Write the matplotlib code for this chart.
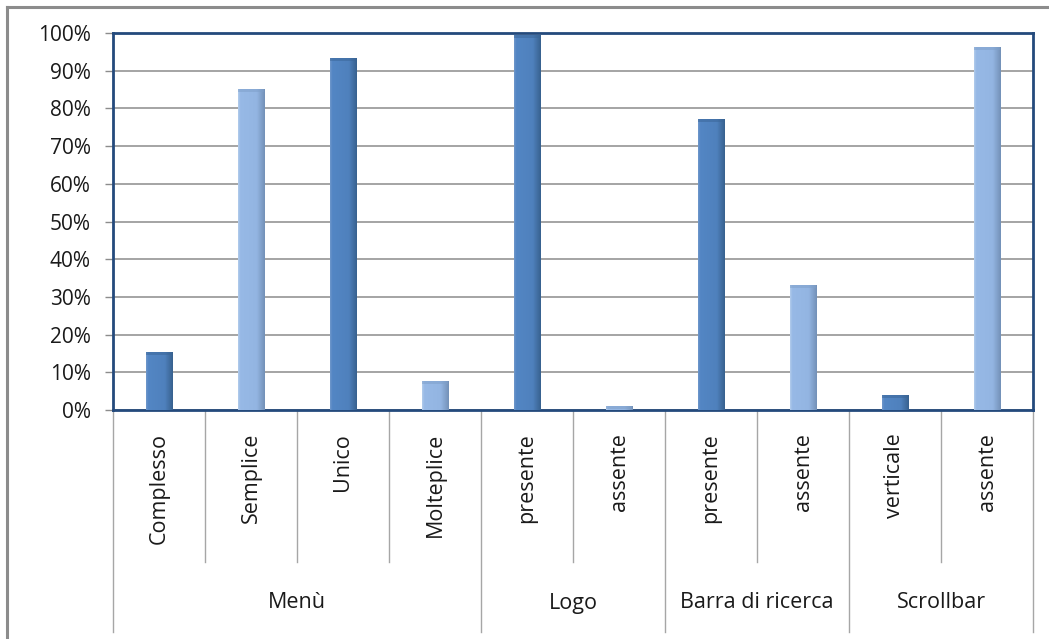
import matplotlib
matplotlib.use("Agg")
import matplotlib.pyplot as plt
import numpy as np
from matplotlib.colors import LinearSegmentedColormap
from matplotlib.transforms import blended_transform_factory
from matplotlib.ticker import FuncFormatter

categories = ["Complesso", "Semplice", "Unico", "Molteplice", "presente", "assente",
              "presente", "assente", "verticale", "assente"]
values = [15.4, 85.2, 93.4, 7.6, 99.4, 1.0, 77.3, 33.2, 4.0, 96.3]
shade = ["dark", "light", "dark", "light", "dark", "light", "dark", "light", "dark", "light"]
groups = ["Menù", "Logo", "Barra di ricerca", "Scrollbar"]
group_sizes = [4, 2, 2, 2]
yticks = [0, 10, 20, 30, 40, 50, 60, 70, 80, 90, 100]

plt.rcParams['font.family'] = ['Open Sans', 'DejaVu Sans']

W, H = 1049, 639
fig = plt.figure(figsize=(W / 100, H / 100), dpi=100)
L, R, T, B = 113, 1033, 33, 410
ax = fig.add_axes([L / W, 1 - B / H, (R - L) / W, (B - T) / H])

# outer chart border (left & top visible)
fig.add_artist(plt.Line2D([7 / W, 7 / W], [0, 1 - 7 / H], transform=fig.transFigure, color="#8c8c8c", lw=2.2))
fig.add_artist(plt.Line2D([7 / W, 1], [1 - 7 / H, 1 - 7 / H], transform=fig.transFigure, color="#8c8c8c", lw=2.2))

ax.set_xlim(-0.5, len(categories) - 0.5)
ax.set_ylim(0, 100)
ax.set_yticks(yticks)
ax.yaxis.set_major_formatter(FuncFormatter(lambda v, p: f"{int(v)}%"))
ax.tick_params(axis='y', length=6, width=1, color="#8c8c8c", labelsize=15, pad=10, labelcolor="#1a1a1a")
ax.set_xticks([])
ax.grid(axis='y', color="#8c8c8c", lw=1.1)
ax.set_axisbelow(True)
for s in ax.spines.values():
    s.set_color("#244a7c")
    s.set_linewidth(2)

cm_dark = LinearSegmentedColormap.from_list("d", [(0, "#6f97cb"), (0.08, "#5386c4"), (0.7, "#4f81bd"), (1.0, "#38618f")])
cm_light = LinearSegmentedColormap.from_list("l", [(0, "#b2cbeb"), (0.08, "#97b9e6"), (0.7, "#93b5e2"), (1.0, "#7391b8")])
grad = np.linspace(0, 1, 64).reshape(1, -1)

bw = 0.29
x = np.arange(len(categories))
bars = ax.bar(x, values, width=bw, color="none", edgecolor="none", zorder=3)
for b, s in zip(bars, shade):
    x0, y0 = b.get_x(), b.get_y()
    w, h = b.get_width(), b.get_height()
    im = ax.imshow(grad, cmap=cm_dark if s == "dark" else cm_light, aspect='auto',
                   extent=[x0, x0 + w, y0, y0 + h], zorder=3, interpolation='bilinear')
    im.set_clip_path(b)
    # top bevel
    ax.add_patch(plt.Rectangle((x0, y0 + h - 0.8), w, 0.8,
                               color="#3a6597" if s == "dark" else "#7e9fc9", alpha=0.5, zorder=4, lw=0))
ax.set_xlim(-0.5, len(categories) - 0.5)
ax.set_ylim(0, 100)

tr = blended_transform_factory(ax.transData, ax.transAxes)
axh = B - T
y_cat_line = -(562 - B) / axh
y_grp_line = -(632 - B) / axh
sep_col = "#a6a6a6"

# category boundaries
bounds_group = np.cumsum([0] + group_sizes)
for i in range(len(categories) + 1):
    xb = i - 0.5
    ybot = y_grp_line if i in bounds_group else y_cat_line
    ax.plot([xb, xb], [0, ybot], transform=tr, color=sep_col, lw=1, clip_on=False)

for i, c in enumerate(categories):
    ax.text(i, -(433 - B) / axh, c, transform=tr, rotation=90, ha='center', va='top',
            fontsize=15.5, color="#1a1a1a")

for gi, g in enumerate(groups):
    cx = (bounds_group[gi] + bounds_group[gi + 1]) / 2 - 0.5
    ax.text(cx, -(603 - B) / axh, g, transform=tr, ha='center', va='center',
            fontsize=15.5, color="#1a1a1a")

fig.savefig("out.png", dpi=100)
